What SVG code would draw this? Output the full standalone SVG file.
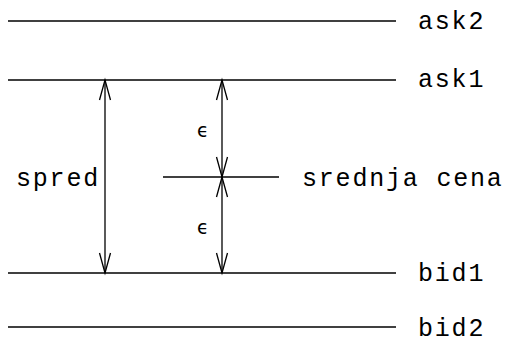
<svg xmlns="http://www.w3.org/2000/svg" width="506" height="340" viewBox="0 0 506 340">
<style>
.ln{stroke:#000;stroke-width:1.3;fill:none}
.lbl{font-family:"Liberation Mono","Courier New",monospace;font-size:25px;letter-spacing:1.8px;fill:#000}
.eps{font-family:"DejaVu Sans",sans-serif;font-size:19px;fill:#000}
</style>
<defs>
<marker id="ah" markerUnits="userSpaceOnUse" markerWidth="24" markerHeight="14" refX="0" refY="0" viewBox="-22 -7 24 14" orient="auto-start-reverse" overflow="visible">
<path d="M-20,-5.5 L0,0 L-20,5.5" fill="none" stroke="#000" stroke-width="1.3"/>
</marker>
</defs>
<g id="ask2"><line class="ln" x1="8" y1="21" x2="396" y2="21"/><text class="lbl" x="418" y="29">ask2</text></g>
<g id="ask1"><line class="ln" x1="8" y1="80" x2="396" y2="80"/><text class="lbl" x="418" y="87">ask1</text></g>
<g id="mid"><line class="ln" x1="163" y1="177" x2="279" y2="177"/><text class="lbl" x="302" y="186">srednja cena</text></g>
<g id="bid1"><line class="ln" x1="8" y1="273" x2="396" y2="273"/><text class="lbl" x="418" y="281">bid1</text></g>
<g id="bid2"><line class="ln" x1="8" y1="327" x2="396" y2="327"/><text class="lbl" x="418" y="336">bid2</text></g>
<g id="spread-label"><text class="lbl" x="16" y="186">spred</text></g>
<g id="eps-labels"><text class="eps" x="197" y="137">ϵ</text><text class="eps" x="197" y="234">ϵ</text></g>
<g id="connectors">
<line class="ln" x1="105" y1="80" x2="105" y2="273" marker-start="url(#ah)" marker-end="url(#ah)"/>
<line class="ln" x1="222" y1="80" x2="222" y2="177" marker-start="url(#ah)" marker-end="url(#ah)"/>
<line class="ln" x1="222" y1="177" x2="222" y2="273" marker-start="url(#ah)" marker-end="url(#ah)"/>
</g>
</svg>
